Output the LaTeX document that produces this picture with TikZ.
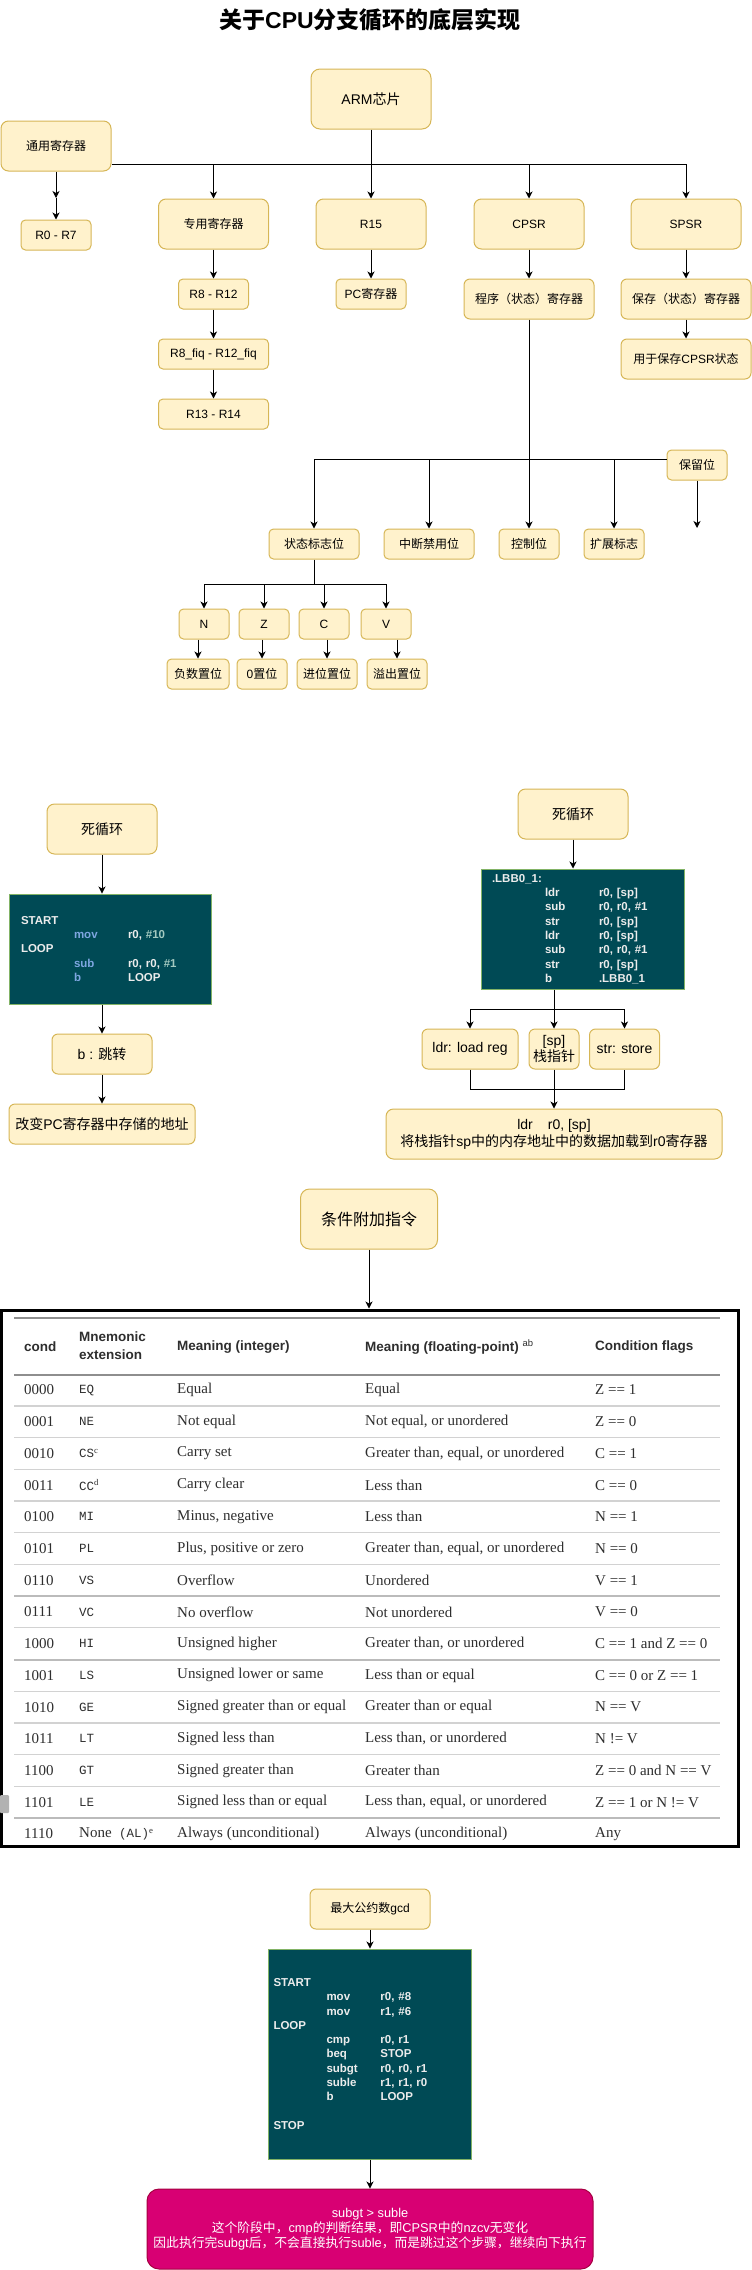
\documentclass[tikz,border=0pt]{standalone}
\usepackage{fontspec}
\setmainfont{Liberation Sans}
\newfontfamily\zhfont{Noto Sans CJK SC}
\newfontfamily\tabserif{Liberation Serif}
\newfontfamily\tabmono{Liberation Mono}
\usetikzlibrary{arrows.meta}
\definecolor{boxfill}{HTML}{FFF2CC}
\definecolor{boxline}{HTML}{D6B656}
\definecolor{codefill}{HTML}{004A55}
\definecolor{codeline}{HTML}{82B366}
\definecolor{codekey}{HTML}{7EA6E0}
\definecolor{codenum}{HTML}{A3C9C0}
\definecolor{codetext}{HTML}{ECECEC}
\definecolor{pinkfill}{HTML}{D80073}
\definecolor{pinkline}{HTML}{A50040}
\definecolor{tabtext}{HTML}{2E2E2E}
\definecolor{tabrule}{HTML}{D2D2D2}
\definecolor{tabrulemid}{HTML}{BBBBBB}
\definecolor{tabruledark}{HTML}{8E8E8E}
\newcommand{\zh}[1]{{\zhfont #1}}
\newcommand{\asmrow}[3]{\makebox[53pt][l]{#1}\makebox[54pt][l]{#2}#3}

\begin{document}
\begin{tikzpicture}[x=1pt,y=-1pt,
box/.style={draw=boxline, fill=boxfill, line width=1pt, rounded corners=4.5pt, inner sep=0pt, align=center, font=\fontsize{12}{14.4}\selectfont},
bigbox/.style={box, font=\fontsize{14}{16.8}\selectfont},
sz/.style 2 args={minimum width=#1pt, minimum height=#2pt},
codebox/.style={draw=codeline, fill=codefill, line width=1pt, inner ysep=0pt, align=left, text=codetext, font=\bfseries\fontsize{11.5}{14.3}\selectfont},
arr/.style={-{Stealth[length=7pt,width=7pt,inset=2pt]}, line width=1pt},
link/.style={line width=1pt},
headcell/.style={anchor=west, inner sep=0pt, text=tabtext, align=left, font=\bfseries\fontsize{13.5}{18}\selectfont},
bodycell/.style={anchor=west, inner sep=0pt, text=tabtext, font=\tabserif\fontsize{15}{18}\selectfont},
monocell/.style={bodycell, font=\tabmono\fontsize{12.5}{15}\selectfont}]
\useasboundingbox (0,0) rectangle (752,2270);

\node[font=\bfseries\fontsize{23}{26}\selectfont] (title) at (370,20) {\zh{关于}CPU\zh{分支循环的底层实现}};

% registers
\node[bigbox, sz={120}{60}, rounded corners=9pt] (arm) at (371,99) {ARM\zh{芯片}};
\node[box, sz={110}{50}, rounded corners=7.5pt] (tongyong) at (56,146) {\zh{通用寄存器}};
\node[box, sz={70}{30}] (r07) at (56,235) {R0 - R7};
\node[box, sz={110}{50}, rounded corners=7.5pt] (zhuanyong) at (213.5,224) {\zh{专用寄存器}};
\node[box, sz={110}{50}, rounded corners=7.5pt] (rr15) at (371,224) {R15};
\node[box, sz={110}{50}, rounded corners=7.5pt] (cpsr) at (529,224) {CPSR};
\node[box, sz={110}{50}, rounded corners=7.5pt] (spsr) at (686,224) {SPSR};
\node[box, sz={70}{30}] (r812) at (213.5,294) {R8 - R12};
\node[box, sz={110}{30}] (r8fiq) at (213.5,354) {R8\_fiq - R12\_fiq};
\node[box, sz={110}{30}] (r1314) at (213.5,414) {R13 - R14};
\node[box, sz={70}{30}] (pcreg) at (371,294) {PC\zh{寄存器}};
\node[box, sz={130}{40}, rounded corners=6pt] (chengxu) at (529,299) {\zh{程序（状态）寄存器}};
\node[box, sz={130}{40}, rounded corners=6pt] (baocun) at (686,299) {\zh{保存（状态）寄存器}};
\node[box, sz={130}{40}, rounded corners=6pt] (yongyu) at (686,359) {\zh{用于保存}CPSR\zh{状态}};

\coordinate (armbus) at (371,164);
\draw[link] (arm.south) -- (armbus);
\draw[link] (tongyong.east |- armbus) -- (spsr.north |- armbus);
\foreach \n in {zhuanyong,rr15,cpsr,spsr}
  \draw[arr] (\n.north |- armbus) -- (\n.north);
\coordinate (tymid) at (56,198);
\draw[arr] (tongyong.south) -- (tymid);
\draw[arr] (tymid) -- (r07.north);
\draw[arr] (zhuanyong) -- (r812);
\draw[arr] (r812) -- (r8fiq);
\draw[arr] (r8fiq) -- (r1314);
\draw[arr] (rr15) -- (pcreg);
\draw[arr] (cpsr) -- (chengxu);
\draw[arr] (spsr) -- (baocun);
\draw[arr] (baocun) -- (yongyu);

% CPSR bits
\node[box, sz={90}{30}] (zhuangtai) at (314,544) {\zh{状态标志位}};
\node[box, sz={90}{30}] (zhongduan) at (429,544) {\zh{中断禁用位}};
\node[box, sz={60}{30}] (kongzhi) at (529,544) {\zh{控制位}};
\node[box, sz={60}{30}] (kuozhan) at (614,544) {\zh{扩展标志}};
\node[box, sz={60}{30}] (baoliu) at (697,465) {\zh{保留位}};
\coordinate (cpsrbus) at (529,459);
\coordinate (baoliuend) at (697,528);
\draw[arr] (chengxu) -- (kongzhi);
\draw[link] (zhuangtai.north |- cpsrbus) -- (baoliu.west |- cpsrbus);
\foreach \n in {zhuangtai,zhongduan,kuozhan}
  \draw[arr] (\n.north |- cpsrbus) -- (\n.north);
\draw[arr] (baoliu) -- (baoliuend);

\node[box, sz={50}{30}] (flagN) at (204,624) {N};
\node[box, sz={50}{30}] (flagZ) at (264,624) {Z};
\node[box, sz={50}{30}] (flagC) at (324,624) {C};
\node[box, sz={50}{30}] (flagV) at (386,624) {V};
\node[box, sz={62}{30}] (fushu) at (198,674) {\zh{负数置位}};
\node[box, sz={50}{30}] (lingzhi) at (262,674) {0\zh{置位}};
\node[box, sz={60}{30}] (jinwei) at (327,674) {\zh{进位置位}};
\node[box, sz={60}{30}] (yichu) at (397,674) {\zh{溢出置位}};
\coordinate (flagbus) at (314,584);
\draw[link] (zhuangtai.south) -- (flagbus);
\draw[link] (flagN.north |- flagbus) -- (flagV.north |- flagbus);
\foreach \n in {flagN,flagZ,flagC,flagV}
  \draw[arr] (\n.north |- flagbus) -- (\n.north);
\foreach \a/\b in {flagN/fushu,flagZ/lingzhi,flagC/jinwei,flagV/yichu}
  \draw[arr] (\b.north |- \a.south) -- (\b.north);

% dead loop, left
\node[bigbox, sz={110}{50}, rounded corners=7.5pt] (loopA) at (102,829) {\zh{死循环}};
\node[codebox, inner xsep=12pt, text width=178pt, minimum height=110pt] (codeA) at (110,949) {%
\asmrow{START}{}{}\\
\asmrow{}{\textcolor{codekey}{mov}}{r0, \textcolor{codenum}{\#10}}\\
\asmrow{LOOP}{}{}\\
\asmrow{}{\textcolor{codekey}{sub}}{r0, r0, \textcolor{codenum}{\#1}}\\
\asmrow{}{\textcolor{codekey}{b}}{LOOP}};
\node[bigbox, sz={100}{40}, rounded corners=6pt] (jumpA) at (102,1054) {b : \zh{跳转}};
\node[bigbox, sz={186}{40}, rounded corners=6pt] (pcA) at (102,1124) {\zh{改变}PC\zh{寄存器中存储的地址}};
\draw[arr] (loopA.south) -- (loopA.south |- codeA.north);
\draw[arr] (jumpA.north |- codeA.south) -- (jumpA.north);
\draw[arr] (jumpA) -- (pcA);

% dead loop, right
\node[bigbox, sz={110}{50}, rounded corners=7.5pt] (loopB) at (573,814) {\zh{死循环}};
\node[codebox, inner xsep=11pt, text width=181pt, minimum height=120pt] (codeB) at (582.5,929) {%
\asmrow{.LBB0\_1:}{}{}\\
\asmrow{}{ldr}{r0, [sp]}\\
\asmrow{}{sub}{r0, r0, \#1}\\
\asmrow{}{str}{r0, [sp]}\\
\asmrow{}{ldr}{r0, [sp]}\\
\asmrow{}{sub}{r0, r0, \#1}\\
\asmrow{}{str}{r0, [sp]}\\
\asmrow{}{b}{.LBB0\_1}};
\node[bigbox, sz={96}{40}, rounded corners=6pt] (ldrB) at (470,1049) {ldr: load reg};
\node[bigbox, sz={50}{40}, rounded corners=6pt] (spB) at (554,1049) {[sp]\\\zh{栈指针}};
\node[bigbox, sz={70}{40}, rounded corners=6pt] (strB) at (624.5,1049) {str: store};
\node[bigbox, sz={336}{50}, rounded corners=7.5pt] (noteB) at (554,1134) {ldr\hspace{15pt}r0, [sp]\\\zh{将栈指针}sp\zh{中的内存地址中的数据加载到}r0\zh{寄存器}};
\coordinate (ldrbus) at (554,1009);
\coordinate (joinB) at (554,1089);
\draw[arr] (loopB.south) -- (loopB.south |- codeB.north);
\draw[link] (spB.north |- codeB.south) -- (ldrbus);
\draw[link] (ldrB.north |- ldrbus) -- (strB.north |- ldrbus);
\foreach \n in {ldrB,spB,strB}
  \draw[arr] (\n.north |- ldrbus) -- (\n.north);
\draw[link] (ldrB.south) -- (ldrB.south |- joinB) -- (strB.south |- joinB) -- (strB.south);
\draw[arr] (spB) -- (noteB);

% condition table
\node[box, sz={137}{60}, rounded corners=9pt, font=\fontsize{16}{19}\selectfont] (cond) at (369,1219) {\zh{条件附加指令}};
\node[draw=black, line width=3pt, minimum width=736.5pt, minimum height=536pt, inner sep=0pt] (condtable) at (369.75,1578) {};
\draw[arr] (cond) -- (cond.south |- condtable.north);
\draw[tabruledark, line width=2pt] (14,1318) -- (720,1318);
\draw[tabruledark, line width=2pt] (14,1375) -- (720,1375);
\foreach \i in {0,...,13}
  \draw[tabrule, line width=1.2pt] (14,{1405.9+31.71*\i}) -- (720,{1405.9+31.71*\i});
\foreach \i in {6,8,13}
  \draw[tabrulemid, line width=2pt] (14,{1405.9+31.71*\i}) -- (720,{1405.9+31.71*\i});
\node[headcell] (hcond) at (24,1347) {cond};
\node[headcell] (hmn) at (79,1346) {Mnemonic\\extension};
\node[headcell] (hint) at (177,1347) {Meaning (integer)};
\node[headcell] (hfp) at (365,1347) {Meaning (floating-point) \textsuperscript{\mdseries ab}};
\node[headcell] (hflag) at (595,1347) {Condition flags};
\foreach \rowcode/\rowmn/\rowint/\rowfp/\rowflag [count=\i from 0] in {
0000/EQ/Equal/Equal/Z == 1,
0001/NE/Not equal/{Not equal, or unordered}/Z == 0,
0010/{CS\textsuperscript{\tabserif c}}/Carry set/{Greater than, equal, or unordered}/C == 1,
0011/{CC\textsuperscript{\tabserif d}}/Carry clear/Less than/C == 0,
0100/MI/{Minus, negative}/Less than/N == 1,
0101/PL/{Plus, positive or zero}/{Greater than, equal, or unordered}/N == 0,
0110/VS/Overflow/Unordered/V == 1,
0111/VC/No overflow/Not unordered/V == 0,
1000/HI/Unsigned higher/{Greater than, or unordered}/C == 1 and Z == 0,
1001/LS/Unsigned lower or same/Less than or equal/C == 0 or Z == 1,
1010/GE/Signed greater than or equal/Greater than or equal/N == V,
1011/LT/Signed less than/{Less than, or unordered}/N != V,
1100/GT/Signed greater than/Greater than/Z == 0 and N == V,
1101/LE/Signed less than or equal/{Less than, equal, or unordered}/Z == 1 or N != V,
1110/{{\tabserif\fontsize{15}{18}\selectfont None} (AL)\textsuperscript{\tabserif e}}/Always (unconditional)/Always (unconditional)/Any}
{
\node[bodycell] (rc\i) at (24,{1390+31.71*\i}) {\rowcode};
\node[monocell] (rm\i) at (79,{1390+31.71*\i}) {\rowmn};
\node[bodycell] (ri\i) at (177,{1390+31.71*\i}) {\rowint};
\node[bodycell] (rf\i) at (365,{1390+31.71*\i}) {\rowfp};
\node[bodycell] (rg\i) at (595,{1390+31.71*\i}) {\rowflag};
}
\fill[gray!60, rounded corners=1pt] (0,1795) rectangle (9,1813);

% gcd
\node[box, sz={120}{40}, rounded corners=6pt] (gcd) at (370,1909) {\zh{最大公约数}gcd};
\node[codebox, inner xsep=5pt, text width=193pt, minimum height=210pt] (codeC) at (370,2054) {%
\asmrow{START}{}{}\\
\asmrow{}{mov}{r0, \#8}\\
\asmrow{}{mov}{r1, \#6}\\
\asmrow{LOOP}{}{}\\
\asmrow{}{cmp}{r0, r1}\\
\asmrow{}{beq}{STOP}\\
\asmrow{}{subgt}{r0, r0, r1}\\
\asmrow{}{suble}{r1, r1, r0}\\
\asmrow{}{b}{LOOP}\\
\mbox{}\\
\asmrow{STOP}{}{}};
\node[draw=pinkline, fill=pinkfill, line width=1pt, rounded corners=12pt, sz={446}{80}, align=center, text=white, font=\fontsize{12.8}{15}\selectfont] (noteC) at (370,2229) {subgt > suble\\
\zh{这个阶段中，}cmp\zh{的判断结果，即}CPSR\zh{中的}nzcv\zh{无变化}\\
\zh{因此执行完}subgt\zh{后，不会直接执行}suble\zh{，而是跳过这个步骤，继续向下执行}};
\draw[arr] (gcd) -- (codeC);
\draw[arr] (codeC) -- (noteC);
\end{tikzpicture}
\end{document}
